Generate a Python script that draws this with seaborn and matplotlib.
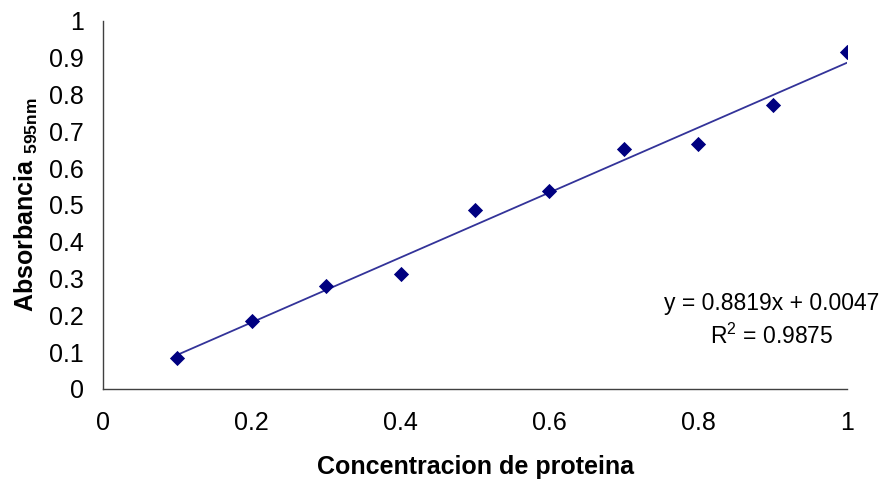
import numpy as np
import pandas as pd
import matplotlib
matplotlib.use("Agg")
import matplotlib.pyplot as plt
import seaborn as sns

# Calibration data: protein concentration vs. absorbance at 595 nm
concentracion = [0.1, 0.2, 0.3, 0.4, 0.5, 0.6, 0.7, 0.8, 0.9, 1.0]
absorbancia = [0.083, 0.185, 0.281, 0.312, 0.486, 0.539, 0.651, 0.666, 0.772, 0.915]

# Linear trend line parameters
pendiente = 0.8819
intercepto = 0.0047
r2 = 0.9875

x_ticks = [0, 0.2, 0.4, 0.6, 0.8, 1]
y_ticks = [0, 0.1, 0.2, 0.3, 0.4, 0.5, 0.6, 0.7, 0.8, 0.9, 1]

sns.set_theme(style="white", rc={"text.color": "black", "axes.labelcolor": "black",
                                 "xtick.color": "black", "ytick.color": "black"})
plt.rcParams["font.family"] = ["Liberation Sans", "DejaVu Sans"]
plt.rcParams["mathtext.fontset"] = "custom"
plt.rcParams["mathtext.rm"] = "Liberation Sans"
plt.rcParams["mathtext.bf"] = "Liberation Sans:bold"

df = pd.DataFrame({"x": concentracion, "y": absorbancia})
x_fit = np.array([min(concentracion), max(concentracion)])
fit = pd.DataFrame({"x": x_fit, "y": pendiente * x_fit + intercepto})

fig = plt.figure(figsize=(8.85, 4.86), dpi=100)
ax = fig.add_axes([0.1164, 0.1996, 0.8407, 0.7572])

sns.lineplot(data=fit, x="x", y="y", ax=ax, color="#333399", linewidth=1.3)
sns.scatterplot(data=df, x="x", y="y", ax=ax, marker="D", s=60,
                color="#000080", edgecolor="#000080", linewidth=0, zorder=3)

ax.set_xlim(0, 1)
ax.set_ylim(0, 1)
ax.set_xticks(x_ticks)
ax.set_xticklabels([f"{v:g}" for v in x_ticks])
ax.set_yticks(y_ticks)
ax.set_yticklabels([f"{v:g}" for v in y_ticks])
ax.tick_params(axis="both", direction="out", length=5, width=0.8,
               color="#404040", labelsize=18, labelcolor="black")
ax.tick_params(axis="x", pad=11)
ax.tick_params(axis="y", pad=9)

for side in ["top", "right"]:
    ax.spines[side].set_visible(False)
for side in ["left", "bottom"]:
    ax.spines[side].set_color("#404040")
    ax.spines[side].set_linewidth(1.0)

ax.set_xlabel("Concentracion de proteina", fontsize=18, fontweight="bold", labelpad=14)
ax.set_ylabel(r"Absorbancia $_{\mathbf{595nm}}$", fontsize=18, fontweight="bold", labelpad=6)

ax.text(0.899, 0.231, f"y = {pendiente}x + {intercepto}", fontsize=16.5,
        ha="center", va="center", transform=ax.transAxes)
ax.text(0.899, 0.144, f"R$^2$ = {r2}", fontsize=16.5,
        ha="center", va="center", transform=ax.transAxes)

fig.savefig("out.png", dpi=100)
